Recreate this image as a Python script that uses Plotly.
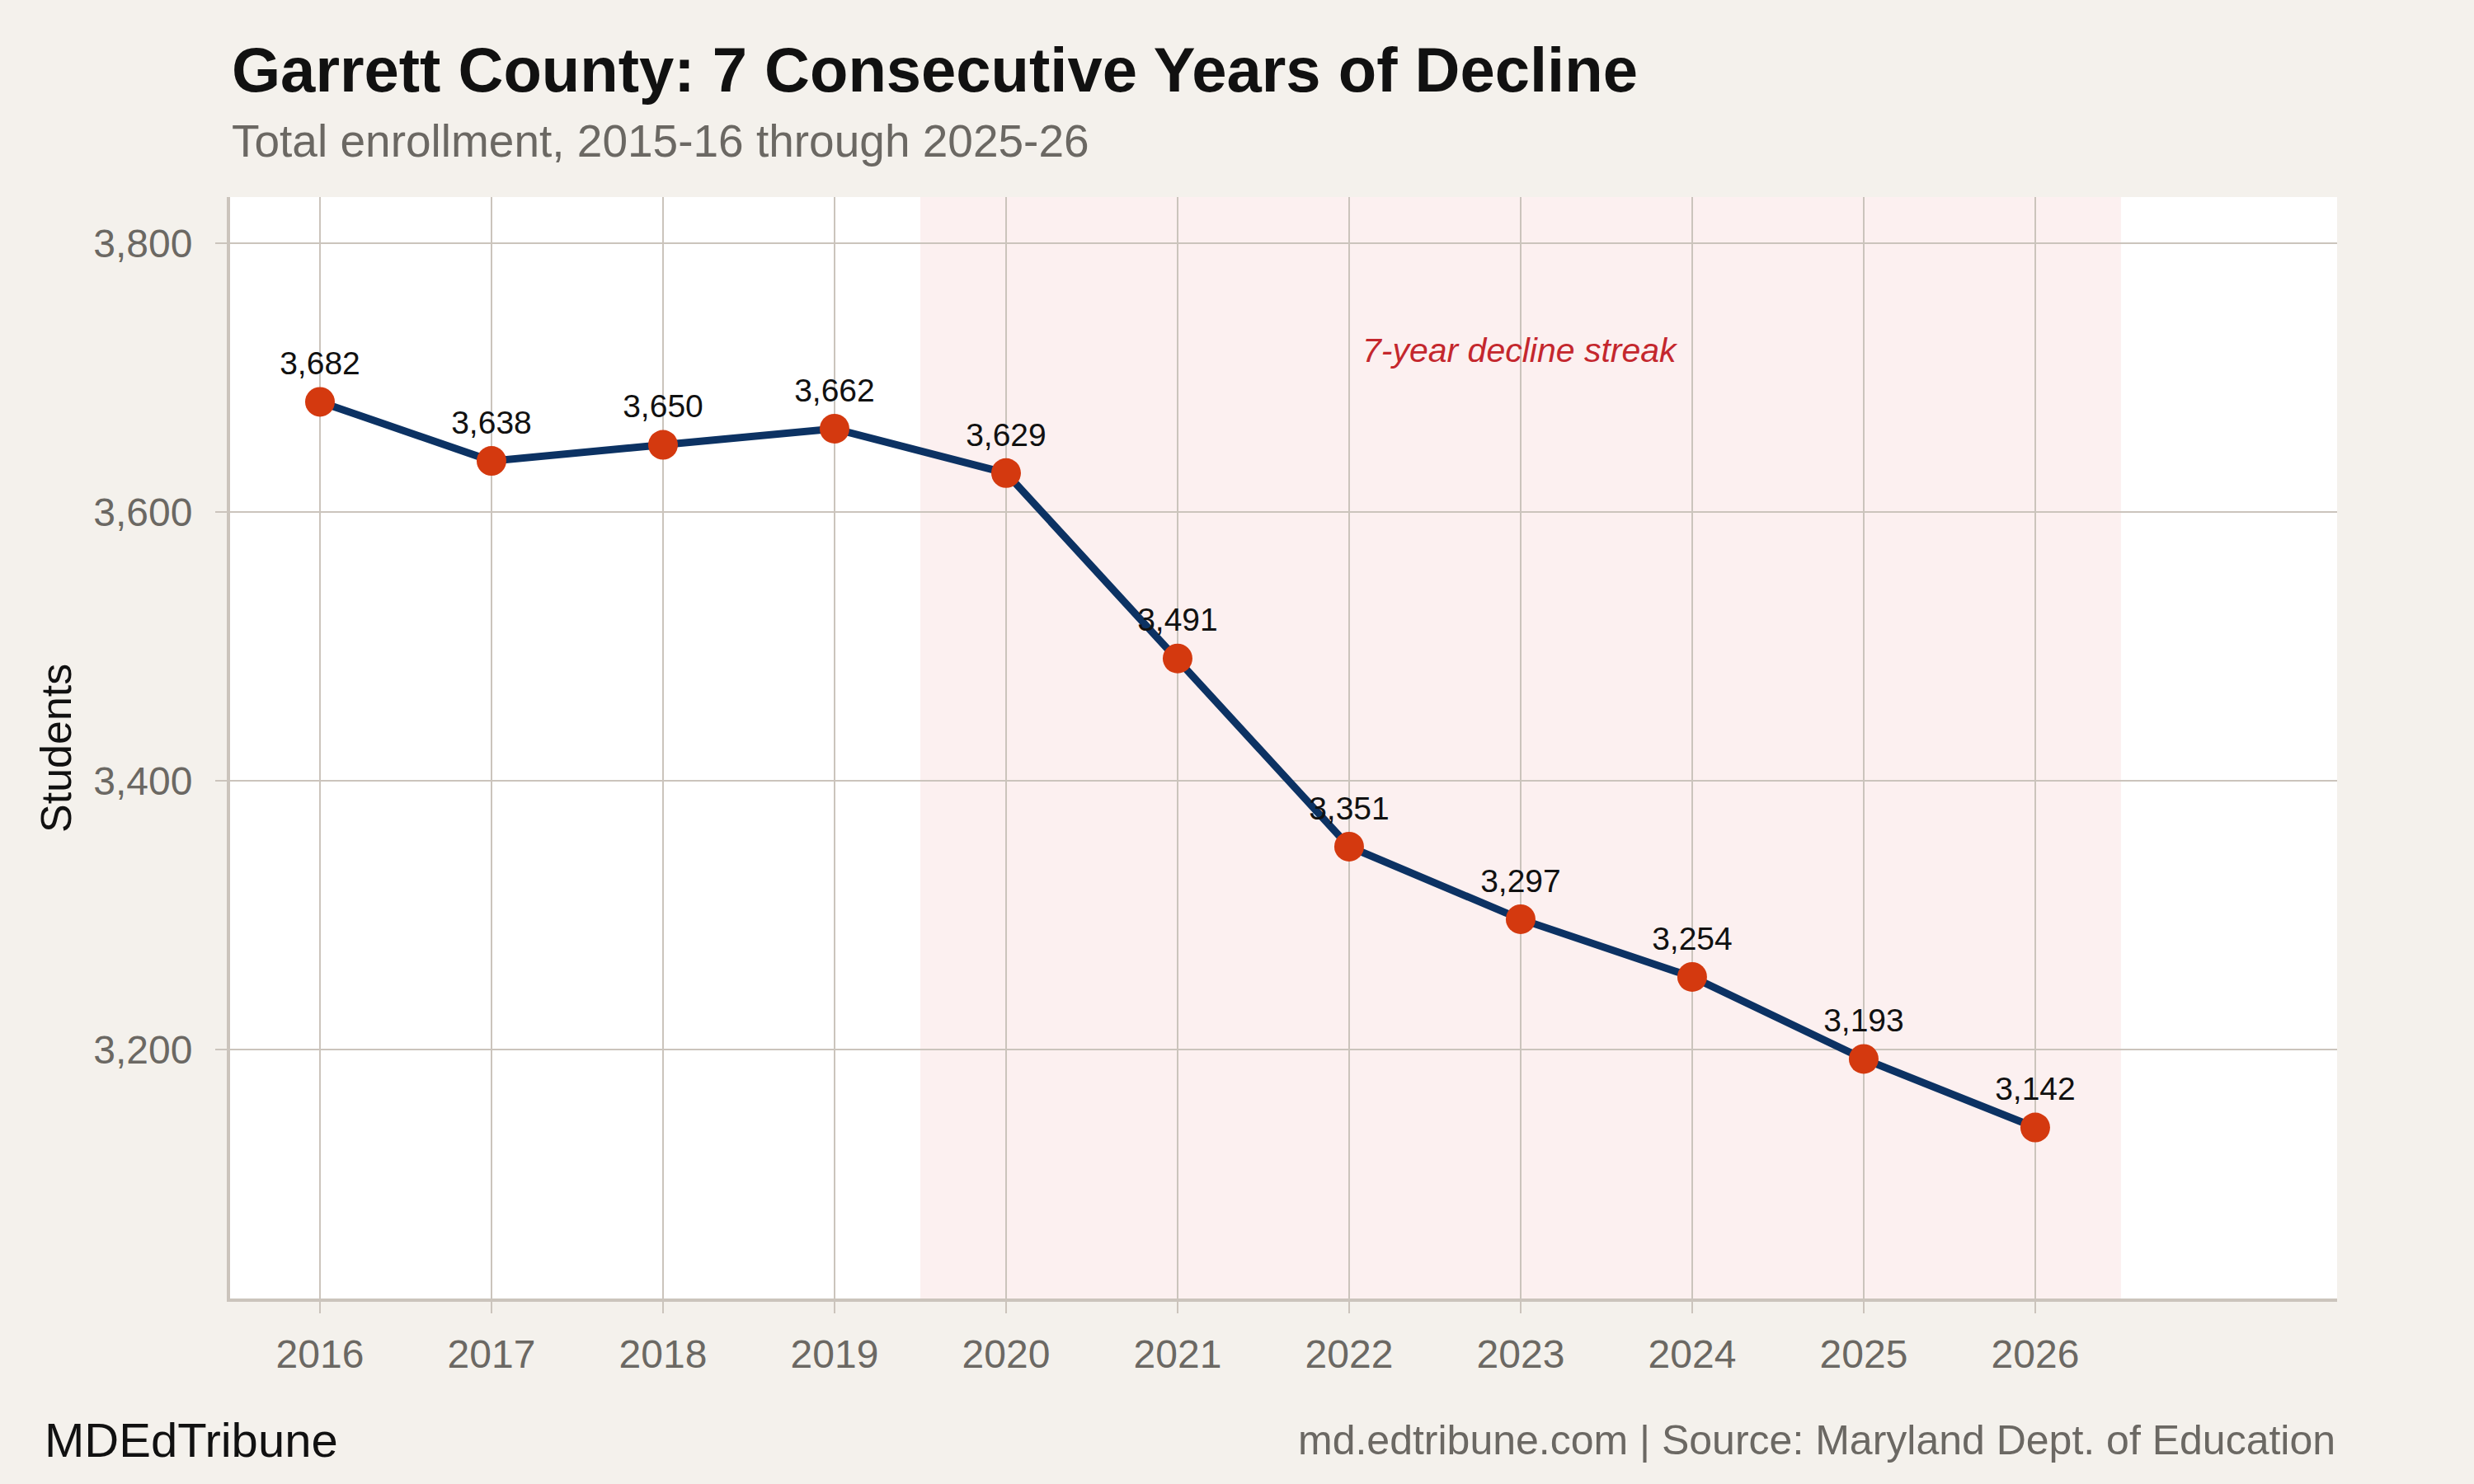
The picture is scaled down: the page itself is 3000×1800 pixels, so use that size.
import plotly.graph_objects as go

# school years ending (2015-16 -> 2016, ...)
years = [2016, 2017, 2018, 2019, 2020, 2021, 2022, 2023, 2024, 2025, 2026]
enrollment = [3682, 3638, 3650, 3662, 3629, 3491, 3351, 3297, 3254, 3193, 3142]
y_ticks = [3200, 3400, 3600, 3800]

streak_start = 2019.5
streak_end = 2026.5
streak_label = "7-year decline streak"
streak_label_x = 2023
streak_label_y = 3720

FONT = "Liberation Sans, Arial, Helvetica, sans-serif"
BG = "#f4f1ec"
GRID = "#cbc4bc"
GRAY = "#6b6863"

fig = go.Figure()

fig.add_trace(
    go.Scatter(
        x=years,
        y=enrollment,
        mode="lines+markers+text",
        line=dict(color="#0c3263", width=9),
        marker=dict(color="#d4390f", size=36),
        text=[f"{v:,}" for v in enrollment],
        textposition="top center",
        textfont=dict(family=FONT, size=39, color="#111111"),
        showlegend=False,
        cliponaxis=False,
    )
)

fig.add_shape(
    type="rect", xref="x", yref="paper",
    x0=streak_start, x1=streak_end, y0=0, y1=1,
    fillcolor="#fcf0f0", line_width=0, layer="below",
)

fig.add_annotation(
    x=streak_label_x, y=streak_label_y, xref="x", yref="y",
    text=f"<i>{streak_label}</i>", showarrow=False,
    font=dict(family=FONT, size=41, color="#c4272d"),
)

# title block
fig.add_annotation(
    x=0, y=1.116, xref="paper", yref="paper", xanchor="left", yanchor="middle",
    text="<b>Garrett County: 7 Consecutive Years of Decline</b>", showarrow=False,
    font=dict(family=FONT, size=76, color="#111111"),
)
fig.add_annotation(
    x=0, y=1.051, xref="paper", yref="paper", xanchor="left", yanchor="middle",
    text="Total enrollment, 2015-16 through 2025-26", showarrow=False,
    font=dict(family=FONT, size=55, color=GRAY),
)

# y axis title
fig.add_annotation(
    x=-0.0826, y=0.5, xref="paper", yref="paper", xanchor="center", yanchor="middle",
    text="Students", textangle=-90, showarrow=False,
    font=dict(family=FONT, size=52, color="#111111"),
)

# footer
fig.add_annotation(
    x=-0.0889, y=-0.1287, xref="paper", yref="paper", xanchor="left", yanchor="middle",
    text="MDEdTribune", showarrow=False,
    font=dict(family=FONT, size=58, color="#111111"),
)
fig.add_annotation(
    x=1, y=-0.1287, xref="paper", yref="paper", xanchor="right", yanchor="middle",
    text="md.edtribune.com | Source: Maryland Dept. of Education", showarrow=False,
    font=dict(family=FONT, size=50, color=GRAY),
)

fig.update_layout(
    width=3000,
    height=1800,
    margin=dict(l=279, r=166, t=239, b=225),
    paper_bgcolor=BG,
    plot_bgcolor="white",
    font=dict(family=FONT),
)

fig.update_xaxes(
    range=[2015.476, 2027.76],
    tickvals=years,
    ticktext=[str(y) for y in years],
    showgrid=True, gridcolor=GRID, gridwidth=2,
    showline=True, linecolor=GRID, linewidth=4,
    ticks="outside", ticklen=14, tickwidth=2, tickcolor=GRID,
    tickfont=dict(family=FONT, size=48, color=GRAY),
    ticklabelstandoff=8,
    zeroline=False,
)
fig.update_yaxes(
    range=[3014.7, 3834.4],
    tickvals=y_ticks,
    ticktext=[f"{v:,}" for v in y_ticks],
    showgrid=True, gridcolor=GRID, gridwidth=2,
    showline=True, linecolor=GRID, linewidth=4,
    ticks="outside", ticklen=14, tickwidth=2, tickcolor=GRID,
    tickfont=dict(family=FONT, size=48, color=GRAY),
    ticklabelstandoff=18,
    zeroline=False,
)

fig.write_html(
    "out.html",
    config={"displayModeBar": False},
    post_script="document.body.style.margin='0';",
)
